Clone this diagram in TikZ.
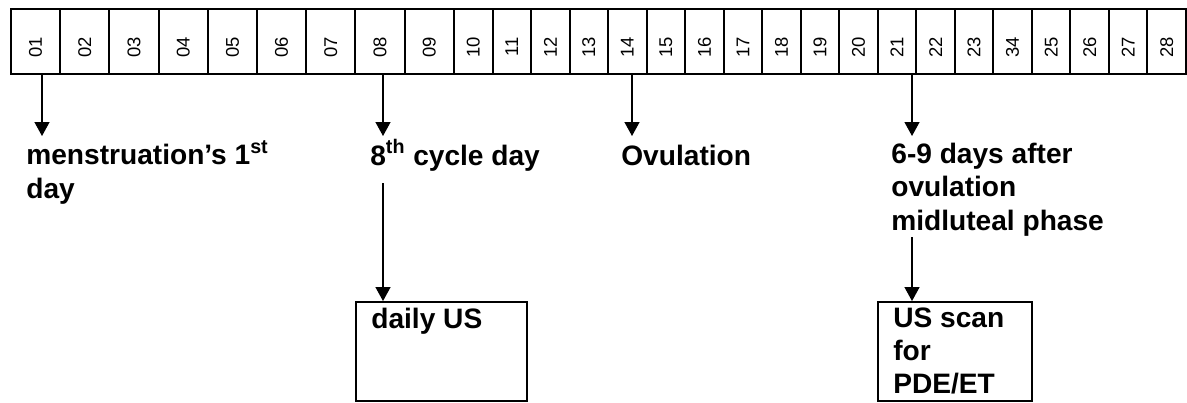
\documentclass[tikz,border=0pt]{standalone}
\usepackage{fontspec}
\setmainfont{Liberation Sans}
\usetikzlibrary{arrows.meta, positioning}

\tikzset{
    cell/.style={draw, line width=1.1pt, minimum height=1.30cm, inner sep=0pt},
    num/.style={rotate=90, inner sep=0pt, font=\fontsize{10.5}{12}\selectfont},
    lbl/.style={inner sep=0pt, align=left, anchor=base west, font=\fontsize{16}{18.8}\selectfont\bfseries},
    usbox/.style={draw, line width=1.1pt, inner sep=0pt},
    arr/.style={-{Triangle[width=0.3cm, length=0.28cm]}, line width=0.75pt}
}

\begin{document}
\begin{tikzpicture}
    \useasboundingbox (0,0) rectangle (23.74,-8.04);

    % Day row: 01-09 wide cells, 10-28 narrow cells
    \foreach \i/\d in {1/01, 2/02, 3/03, 4/04, 5/05, 6/06, 7/07, 8/08, 9/09} {
        \node[cell, minimum width=0.984cm] (c\i) at ({0.22+(\i-0.5)*0.984},-0.83) {};
        \node[num] (n\i) at ([yshift=-0.11cm]c\i.center) {\d};
    }
    \foreach \i/\d in {10/10, 11/11, 12/12, 13/13, 14/14, 15/15, 16/16, 17/17, 18/18, 19/19,
                       20/20, 21/21, 22/22, 23/23, 24/34, 25/25, 26/26, 27/27, 28/28} {
        \node[cell, minimum width=0.7705cm] (c\i) at ({9.08+(\i-9.5)*0.7705},-0.83) {};
        \node[num] (n\i) at ([yshift=-0.11cm]c\i.center) {\d};
    }

    % Arrow ends under the row
    \coordinate (t1) at (0.84,-2.72);
    \coordinate (t8) at (7.66,-2.72);
    \coordinate (t14) at (12.64,-2.72);
    \coordinate (t21) at (18.24,-2.72);

    % Labels (base = last line)
    \node[lbl] (men) at (0.52,-3.96) {menstruation’s 1\textsuperscript{st}\\day};
    \node[lbl] (cyc) at (7.40,-3.30) {8\textsuperscript{th} cycle day};
    \node[lbl] (ovu) at (12.42,-3.31) {Ovulation};
    \node[lbl] (aft) at (17.82,-4.60) {6-9 days after\\ovulation\\midluteal phase};

    % Boxes
    \node[usbox, minimum width=3.42cm, minimum height=1.98cm] (dus) at (8.83,-7.03) {};
    \node[lbl] (dustxt) at (7.42,-6.56) {daily US};
    \node[usbox, minimum width=3.08cm, minimum height=1.98cm] (scan) at (19.10,-7.03) {};
    \node[lbl] (scantxt) at (17.86,-7.87) {US scan\\for\\PDE/ET};

    % Arrows
    \draw[arr] (c1.south -| t1) -- (t1);
    \draw[arr] (c8.south -| t8) -- (t8);
    \draw[arr] (c14.south -| t14) -- (t14);
    \draw[arr] (c21.south -| t21) -- (t21);
    \draw[arr] (cyc.south -| t8) ++(0,-0.24) -- (t8 |- dus.north);
    \draw[arr] (aft.south -| t21) ++(0,-0.02) -- (t21 |- scan.north);
\end{tikzpicture}
\end{document}
